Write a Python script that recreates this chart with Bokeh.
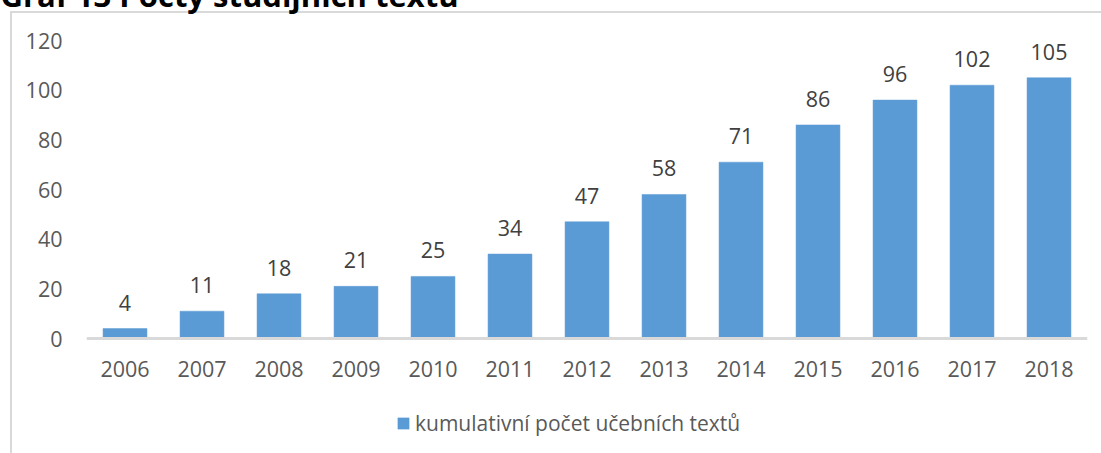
from bokeh.plotting import figure
from bokeh.models import (FactorRange, Range1d, Legend, LegendItem,
                          FixedTicker, ColumnDataSource, Title)
from bokeh.embed import file_html
from bokeh.resources import INLINE
from bokeh.core.properties import value

# ---- data ----
years = ["2006", "2007", "2008", "2009", "2010", "2011", "2012",
         "2013", "2014", "2015", "2016", "2017", "2018"]
counts = [4, 11, 18, 21, 25, 34, 47, 58, 71, 86, 96, 102, 105]
count_labels = [str(c) for c in counts]
y_ticks = [0, 20, 40, 60, 80, 100, 120]
series_name = "kumulativní počet učebních textů"
title_text = "Graf 13 Počty studijních textů"

FONT = "Open Sans"
FS = "21.5px"
BAR = "#5b9bd5"
GRAY_TXT = "#595959"
SHIFT = 60          # canvas starts above the page top, so the title is cut like in the reference
PLOT_TOP = 40       # page y of the value 120
PLOT_ZERO = 338     # page y of the value 0
PAGE_H = 453
px_per_unit = (PLOT_ZERO - PLOT_TOP) / 120
y_bottom = -(PAGE_H - PLOT_ZERO) / px_per_unit   # frame reaches the page bottom

src = ColumnDataSource(dict(year=years, count=counts, lbl=count_labels))

p = figure(x_range=FactorRange(*years), y_range=Range1d(y_bottom, 120),
           width=1101, height=PAGE_H + SHIFT, output_backend="svg",
           toolbar_location=None,
           min_border_left=86, min_border_right=14,
           min_border_top=PLOT_TOP + SHIFT, min_border_bottom=0)
p.margin = (-SHIFT, 0, 0, 0)
p.outline_line_color = None
p.xgrid.visible = False
p.ygrid.visible = False
p.border_fill_color = None
p.background_fill_color = None
# light grey chart border (left and top edges visible, the rest is cut by the picture)
p.styles = {
    "background": (
        f"linear-gradient(#d9d9d9, #d9d9d9) 10px {11 + SHIFT}px / 2px 100% no-repeat, "
        f"linear-gradient(#d9d9d9, #d9d9d9) 10px {11 + SHIFT}px / 100% 2px no-repeat, "
        "#ffffff"
    )
}

bars = p.vbar(x="year", top="count", width=0.57, source=src,
              fill_color=BAR, line_color=BAR, line_width=0.5)

p.text(x="year", y="count", text="lbl", source=src,
       text_font=value(FONT), text_font_size=FS, text_color="#404040",
       text_align="center", text_baseline="alphabetic", y_offset=-26)

# y axis
p.yaxis.ticker = FixedTicker(ticks=y_ticks)
p.yaxis.axis_line_color = None
p.yaxis.major_tick_line_color = None
p.yaxis.minor_tick_line_color = None
p.yaxis.major_label_text_font = FONT
p.yaxis.major_label_text_font_size = FS
p.yaxis.major_label_text_color = GRAY_TXT
p.yaxis.major_label_standoff = 18

# x axis, drawn at value 0 inside the frame
p.xaxis.fixed_location = 0
p.xaxis.axis_line_color = "#d9d9d9"
p.xaxis.axis_line_width = 3
p.xaxis.major_tick_line_color = None
p.xaxis.minor_tick_line_color = None
p.xaxis.major_label_text_font = FONT
p.xaxis.major_label_text_font_size = FS
p.xaxis.major_label_text_color = GRAY_TXT
p.xaxis.major_label_standoff = 16

legend = Legend(items=[LegendItem(label=series_name, renderers=[bars])],
                location=(396 - 86, 16), orientation="horizontal",
                padding=0, margin=0, border_line_color=None,
                background_fill_alpha=0, glyph_width=14, glyph_height=14,
                label_standoff=5, label_text_font=FONT,
                label_text_font_size="21px", label_text_color=GRAY_TXT)
p.add_layout(legend)

p.add_layout(Title(text=title_text, text_font=FONT, text_font_style="bold",
                   text_font_size="31px", text_color="black", align="left",
                   offset=-86, standoff=50), "above")

open("out.html", "w").write(file_html(p, INLINE))
